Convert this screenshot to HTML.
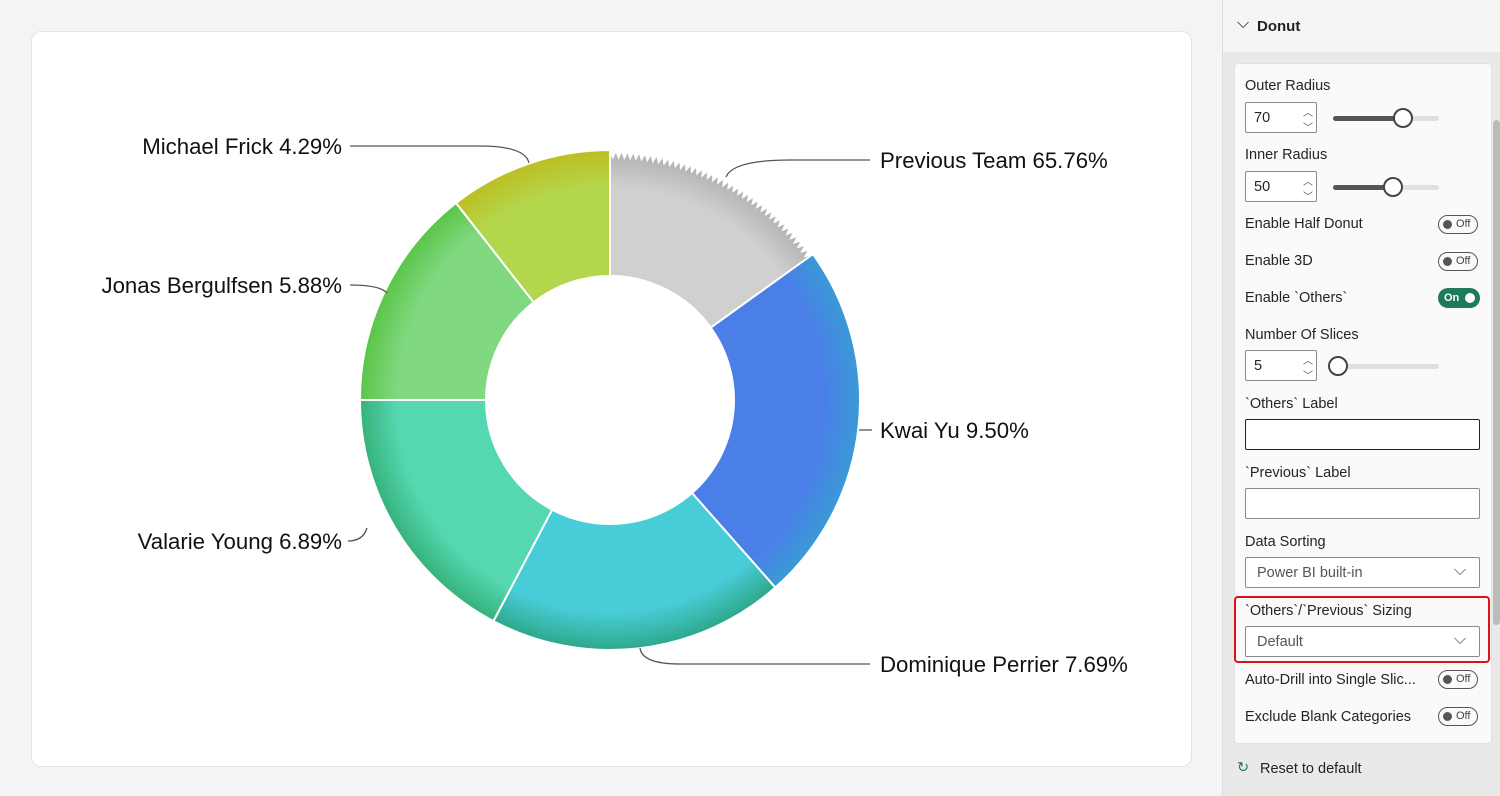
<!DOCTYPE html>
<html><head><meta charset="utf-8">
<style>
body{margin:0;width:1500px;height:796px;background:#f3f4f6;font-family:"Liberation Sans",sans-serif;position:relative;overflow:hidden}
.card{position:absolute;left:31px;top:31px;width:1159px;height:734px;background:#fff;border:1px solid #e3e4e6;border-radius:10px}
.panel{position:absolute;left:1222px;top:0;width:278px;height:796px;background:#e9e9e9;border-left:1px solid #ddd}
.hdr{position:absolute;left:0;top:0;width:278px;height:52px;background:#f5f5f5;font-size:15px;color:#222}
.inner{position:absolute;left:11px;top:63px;width:256px;height:679px;background:#fafafa;border-radius:4px;border:1px solid #e0e0e0}
.t{position:absolute;font-size:14.5px;color:#252423;white-space:nowrap}
.box{position:absolute;background:#fff;border:1px solid #8a8a8a;border-radius:2px;box-sizing:border-box}
.tog{position:absolute;width:40px;height:19px;border:1.5px solid #555;border-radius:10px;box-sizing:border-box;font-size:11px;color:#444}
.tog:before{content:"";position:absolute;left:4px;top:3.5px;width:9px;height:9px;border-radius:50%;background:#555}
.tog span{position:absolute;left:17px;top:2px}
.sl{position:absolute;height:5px;background:#e0e0e0;border-radius:3px}
.sl i{position:absolute;left:0;top:0;height:5px;background:#555;border-radius:3px}
.knob{position:absolute;width:20px;height:20px;border:2px solid #444;border-radius:50%;background:#fff;box-sizing:border-box;top:-8px}
.chev{position:absolute;font-size:12px;color:#555}
</style></head><body>
<div class="card"></div>
<svg width="1500" height="796" style="position:absolute;left:0;top:0" id="s"></svg>
<div class="panel">
 <div class="hdr"><span style="position:absolute;left:14px;top:15px;font-size:16px">⌵</span><span style="position:absolute;left:34px;top:18px;font-weight:bold;font-size:15px">Donut</span></div>
 <div style="position:absolute;left:270px;top:120px;width:7px;height:505px;background:#bbb;border-radius:4px"></div>
 <div class="inner">
  <div class="t" style="left:10px;top:14px">Outer Radius</div>
  <div class="box" style="left:10px;top:38px;width:72px;height:31px"><span class="t" style="left:8px;top:7px">70</span><span class="chev" style="left:57px;top:1px;font-size:10px">︿<br>﹀</span></div>
  <div class="sl" style="left:98px;top:52px;width:106px"><i style="width:65px"></i><div class="knob" style="left:60px"></div></div>
  <div class="t" style="left:10px;top:83px">Inner Radius</div>
  <div class="box" style="left:10px;top:107px;width:72px;height:31px"><span class="t" style="left:8px;top:7px">50</span><span class="chev" style="left:57px;top:1px;font-size:10px">︿<br>﹀</span></div>
  <div class="sl" style="left:98px;top:121px;width:106px"><i style="width:55px"></i><div class="knob" style="left:50px"></div></div>
  <div class="t" style="left:10px;top:152px">Enable Half Donut</div><div class="tog" style="left:203px;top:151px"><span>Off</span></div>
  <div class="t" style="left:10px;top:189px">Enable 3D</div><div class="tog" style="left:203px;top:188px"><span>Off</span></div>
  <div class="t" style="left:10px;top:226px">Enable `Others`</div><div style="position:absolute;left:203px;top:224px;width:42px;height:20px;border-radius:10px;background:#1e7a5c;color:#fff;font-size:11px;font-weight:bold"><span style="position:absolute;left:6px;top:4px">On</span><span style="position:absolute;left:27px;top:5px;width:10px;height:10px;border-radius:50%;background:#fff"></span></div>
  <div class="t" style="left:10px;top:263px">Number Of Slices</div>
  <div class="box" style="left:10px;top:286px;width:72px;height:31px"><span class="t" style="left:8px;top:7px">5</span><span class="chev" style="left:57px;top:1px;font-size:10px">︿<br>﹀</span></div>
  <div class="sl" style="left:98px;top:300px;width:106px"><div class="knob" style="left:-5px"></div></div>
  <div class="t" style="left:10px;top:332px">`Others` Label</div>
  <div class="box" style="left:10px;top:355px;width:235px;height:31px;border:1.5px solid #222"></div>
  <div class="t" style="left:10px;top:401px">`Previous` Label</div>
  <div class="box" style="left:10px;top:424px;width:235px;height:31px"></div>
  <div class="t" style="left:10px;top:470px">Data Sorting</div>
  <div class="box" style="left:10px;top:493px;width:235px;height:31px"><span class="t" style="left:11px;top:7px;color:#555">Power BI built-in</span><span class="chev" style="left:208px;top:4px;font-size:16px">⌵</span></div>
  <div style="position:absolute;left:-1px;top:532px;width:256px;height:67px;border:2.5px solid #e0101a;border-radius:4px;box-sizing:border-box"></div>
  <div class="t" style="left:10px;top:539px">`Others`/`Previous` Sizing</div>
  <div class="box" style="left:10px;top:562px;width:235px;height:31px"><span class="t" style="left:11px;top:7px;color:#555">Default</span><span class="chev" style="left:208px;top:4px;font-size:16px">⌵</span></div>
  <div class="t" style="left:10px;top:608px">Auto-Drill into Single Slic...</div><div class="tog" style="left:203px;top:606px"><span>Off</span></div>
  <div class="t" style="left:10px;top:645px">Exclude Blank Categories</div><div class="tog" style="left:203px;top:643px"><span>Off</span></div>
 </div>
 <div class="t" style="left:14px;top:760px;color:#2a7a5c">↻</div>
 <div class="t" style="left:37px;top:761px">Reset to default</div>
</div>
<script>
const s=document.getElementById('s'),cx=610,cy=400,R=250,r=124;
function P(a,rad){a=a*Math.PI/180;return [cx+rad*Math.sin(a),cy-rad*Math.cos(a)];}
let defs='<defs>';
const sl=[
 [0,54.3,'#d0d0d0','#b0b0b0',true],
 [54.3,138.6,'#4a7fe8','#3a9ad6'],
 [138.6,207.8,'#48cdd8','#2ea88a'],
 [207.8,270,'#55d8b2','#36b27a'],
 [270,322,'#80d880','#5ac548'],
 [322,360,'#b4d64c','#bcbe22']];
let h='';
sl.forEach((q,i)=>{
 defs+=`<radialGradient id="g${i}" cx="${cx}" cy="${cy}" r="${R}" gradientUnits="userSpaceOnUse"><stop offset="0.5" stop-color="${q[2]}"/><stop offset="0.85" stop-color="${q[2]}"/><stop offset="1" stop-color="${q[3]}"/></radialGradient>`;
 let d='';
 if(q[4]){
  let pts=[];const n=80;
  for(let k=0;k<=n;k++){const a=q[0]+(q[1]-q[0])*k/n;pts.push(P(a,k%2?R-7:R));}
  d='M'+pts.map(p=>p.join(',')).join('L');
 }else{
  const a=P(q[0],R),b=P(q[1],R);d=`M${a}A${R},${R} 0 ${q[1]-q[0]>180?1:0} 1 ${b}`;
 }
 const c=P(q[1],r),e=P(q[0],r);
 d+=`L${c}A${r},${r} 0 0 0 ${e}Z`;
 h+=`<path d="${d}" fill="url(#g${i})" stroke="#fff" stroke-width="2"/>`;
});
defs+='</defs>';
const L=[
 ['M726,177 Q733,160 790,160 L870,160','Previous Team 65.76%',880,168,'start'],
 ['M859,430 L872,430','Kwai Yu 9.50%',880,438,'start'],
 ['M640,648 Q642,664 680,664 L870,664','Dominique Perrier 7.69%',880,672,'start'],
 ['M367,528 Q363,541 348,541','Valarie Young 6.89%',342,549,'end'],
 ['M387,293 Q380,285 350,285','Jonas Bergulfsen 5.88%',342,293,'end'],
 ['M529,163 Q525,146 480,146 L350,146','Michael Frick 4.29%',342,154,'end']];
L.forEach(l=>{h+=`<path d="${l[0]}" fill="none" stroke="#555" stroke-width="1.3"/><text x="${l[2]}" y="${l[3]}" text-anchor="${l[4]}" font-size="22.2" fill="#111" font-family="Liberation Sans,sans-serif">${l[1]}</text>`;});
s.innerHTML=defs+h;
</script>
</body></html>
